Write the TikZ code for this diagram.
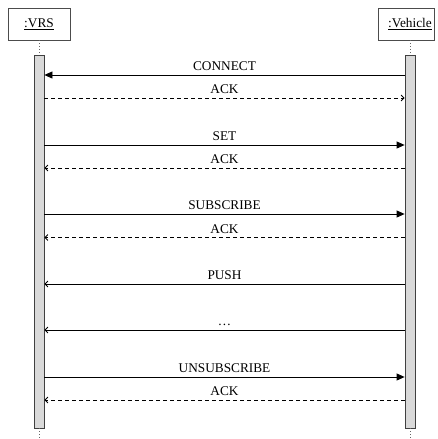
\documentclass[tikz,border=0pt]{standalone}
\usepackage{fontspec}
\setmainfont{Liberation Serif}
\usetikzlibrary{arrows.meta}
\begin{document}
\begin{tikzpicture}[x=1pt,y=-1pt,
  objbox/.style={draw=black!70,line width=0.8pt,fill=white,inner sep=0pt},
  actbar/.style={draw=black!75,line width=0.8pt,fill=black!15,inner sep=0pt},
  lifeline/.style={black!60,line width=0.6pt,dash pattern=on 1pt off 2pt},
  callmsg/.style={line width=0.8pt,-{Triangle[length=8pt,width=7pt]}},
  asyncmsg/.style={line width=0.8pt,-{Straight Barb[length=3pt,width=6pt]}},
  replymsg/.style={line width=0.8pt,dash pattern=on 4pt off 3pt,-{Straight Barb[length=3pt,width=6pt]}},
  msglabel/.style={anchor=base,inner sep=0pt,font=\fontsize{13.3}{15}\selectfont}
]
\useasboundingbox (0,0) rectangle (437,439);
% object boxes
\node[objbox,minimum width=62pt,minimum height=32pt] (vrs) at (39,24) {};
\node[anchor=base,inner sep=0pt,font=\fontsize{13.3}{15}\selectfont] (vrslbl) at (39,27.5) {\underline{:VRS}};
\node[objbox,minimum width=56pt,minimum height=32pt] (veh) at (406,24) {};
\node[anchor=base,inner sep=0pt,font=\fontsize{13.3}{15}\selectfont] (vehlbl) at (410,27.5) {\underline{:Vehicle}};
% activation bars
\node[actbar,minimum width=10pt,minimum height=373pt] (barL) at (39,241.5) {};
\node[actbar,minimum width=10pt,minimum height=373pt] (barR) at (410,241.5) {};
% lifelines
\coordinate (endL) at (39,439);
\coordinate (endR) at (410,439);
\draw[lifeline] (vrs.south) -- (barL.north);
\draw[lifeline] (barL.south) -- (endL);
\draw[lifeline] (veh.south -| barR.north) -- (barR.north);
\draw[lifeline] (barR.south) -- (endR);
% message rows
\coordinate (m1) at (0,75);
\coordinate (m2) at (0,98);
\coordinate (m3) at (0,145);
\coordinate (m4) at (0,168);
\coordinate (m5) at (0,214);
\coordinate (m6) at (0,237.5);
\coordinate (m7) at (0,284);
\coordinate (m8) at (0,330);
\coordinate (m9) at (0,377);
\coordinate (m10) at (0,400);
\coordinate (mid) at (224.5,0);
% messages
\draw[callmsg] (barR.west |- m1) -- (barL.east |- m1);
\node[msglabel] (l1) at ([yshift=4.5pt]mid |- m1) {CONNECT};
\draw[replymsg] (barL.east |- m2) -- (barR.west |- m2);
\node[msglabel] (l2) at ([yshift=4.5pt]mid |- m2) {ACK};
\draw[callmsg] (barL.east |- m3) -- (barR.west |- m3);
\node[msglabel] (l3) at ([yshift=4.5pt]mid |- m3) {SET};
\draw[replymsg] (barR.west |- m4) -- (barL.east |- m4);
\node[msglabel] (l4) at ([yshift=4.5pt]mid |- m4) {ACK};
\draw[callmsg] (barL.east |- m5) -- (barR.west |- m5);
\node[msglabel] (l5) at ([yshift=4.5pt]mid |- m5) {SUBSCRIBE};
\draw[replymsg] (barR.west |- m6) -- (barL.east |- m6);
\node[msglabel] (l6) at ([yshift=4.5pt]mid |- m6) {ACK};
\draw[asyncmsg] (barR.west |- m7) -- (barL.east |- m7);
\node[msglabel] (l7) at ([yshift=4.5pt]mid |- m7) {PUSH};
\draw[asyncmsg] (barR.west |- m8) -- (barL.east |- m8);
\node[msglabel] (l8) at ([yshift=4.5pt]mid |- m8) {\dots};
\draw[callmsg] (barL.east |- m9) -- (barR.west |- m9);
\node[msglabel] (l9) at ([yshift=4.5pt]mid |- m9) {UNSUBSCRIBE};
\draw[replymsg] (barR.west |- m10) -- (barL.east |- m10);
\node[msglabel] (l10) at ([yshift=4.5pt]mid |- m10) {ACK};
\end{tikzpicture}
\end{document}
